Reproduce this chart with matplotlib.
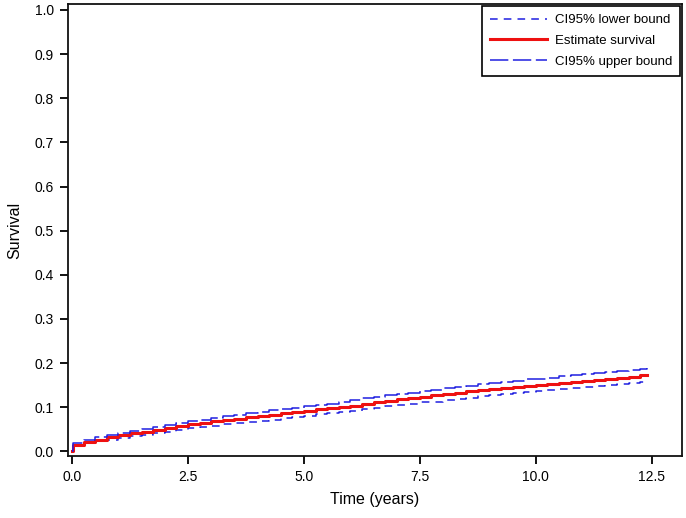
import matplotlib
matplotlib.use('Agg')
import matplotlib.pyplot as plt

plt.rcParams['font.family'] = ['Liberation Sans', 'DejaVu Sans']

# step times (years)
time_years = [0.00, 0.02, 0.25, 0.50, 0.75, 1.00, 1.25, 1.50, 1.75, 2.00, 2.25,
              2.50, 2.75, 3.00, 3.25, 3.50, 3.75, 4.00, 4.25, 4.50, 4.75,
              5.00, 5.25, 5.50, 5.75, 6.00, 6.25, 6.50, 6.75, 7.00, 7.25,
              7.50, 7.75, 8.00, 8.25, 8.50, 8.75, 9.00, 9.25, 9.50, 9.75,
              10.00, 10.25, 10.50, 10.75, 11.00, 11.25, 11.50, 11.75, 12.00, 12.25,
              12.40]

estimate = [0.000, 0.015, 0.022, 0.027, 0.032, 0.037, 0.041, 0.045, 0.049, 0.053, 0.057,
            0.061, 0.064, 0.068, 0.071, 0.074, 0.077, 0.080, 0.083, 0.086, 0.089,
            0.092, 0.095, 0.098, 0.101, 0.104, 0.108, 0.112, 0.115, 0.118, 0.121,
            0.124, 0.127, 0.130, 0.133, 0.136, 0.139, 0.141, 0.144, 0.146, 0.149,
            0.151, 0.153, 0.155, 0.158, 0.160, 0.162, 0.164, 0.167, 0.169, 0.172,
            0.174]

lower = [0.000, 0.012, 0.018, 0.023, 0.027, 0.031, 0.035, 0.038, 0.042, 0.045, 0.049,
         0.052, 0.055, 0.058, 0.061, 0.064, 0.067, 0.070, 0.072, 0.075, 0.078,
         0.081, 0.084, 0.087, 0.089, 0.092, 0.096, 0.099, 0.102, 0.105, 0.108,
         0.111, 0.113, 0.116, 0.119, 0.122, 0.125, 0.127, 0.130, 0.132, 0.134,
         0.137, 0.139, 0.141, 0.143, 0.146, 0.148, 0.150, 0.152, 0.155, 0.158,
         0.161]

upper = [0.000, 0.018, 0.026, 0.032, 0.037, 0.042, 0.047, 0.051, 0.056, 0.060, 0.064,
         0.068, 0.072, 0.076, 0.080, 0.083, 0.086, 0.089, 0.093, 0.096, 0.099,
         0.102, 0.105, 0.108, 0.112, 0.116, 0.120, 0.124, 0.127, 0.130, 0.133,
         0.136, 0.140, 0.143, 0.146, 0.149, 0.152, 0.155, 0.158, 0.160, 0.163,
         0.165, 0.167, 0.170, 0.173, 0.175, 0.177, 0.179, 0.182, 0.184, 0.186,
         0.188]

x_ticks = [0.0, 2.5, 5.0, 7.5, 10.0, 12.5]
y_ticks = [0.0, 0.1, 0.2, 0.3, 0.4, 0.5, 0.6, 0.7, 0.8, 0.9, 1.0]

fig = plt.figure(figsize=(6.86, 5.18), dpi=100)
ax = fig.add_axes([0.099, 0.12, 0.895, 0.872])

blue = '#1f1fe0'
ax.step(time_years, lower, where='post', color=blue, lw=1.1,
        dashes=(5, 4), label='CI95% lower bound')
ax.step(time_years, estimate, where='post', color='#ee1111', lw=2.2,
        label='Estimate survival')
ax.step(time_years, upper, where='post', color=blue, lw=1.1,
        dashes=(12, 3), label='CI95% upper bound')

ax.set_xlim(-0.09, 13.15)
ax.set_ylim(-0.01, 1.013)
ax.set_xticks(x_ticks)
ax.set_xticklabels([f'{v:.1f}' for v in x_ticks])
ax.set_yticks(y_ticks)
ax.set_yticklabels([f'{v:.1f}' for v in y_ticks])

for s in ax.spines.values():
    s.set_linewidth(1.3)
    s.set_color('#111111')
ax.tick_params(direction='out', length=6, width=1.3, labelsize=10, pad=4)

ax.set_xlabel('Time (years)', fontsize=11.5, labelpad=6)
ax.set_ylabel('Survival', fontsize=11.5, labelpad=9)

leg = ax.legend(loc='upper right', fontsize=9.5, handlelength=4.3,
                handletextpad=0.6, borderaxespad=0.15, labelspacing=0.65,
                fancybox=False, framealpha=1, edgecolor='black',
                borderpad=0.6)
leg.get_frame().set_linewidth(1.2)

fig.savefig('out.png', dpi=100)
